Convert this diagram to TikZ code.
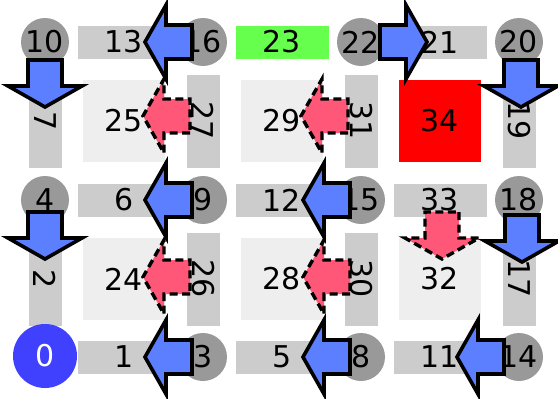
\documentclass[tikz,border=0pt]{standalone}
\usepackage{fontspec}
\setmainfont{DejaVu Sans}
\usetikzlibrary{calc}
\definecolor{vgray}{HTML}{999999}
\definecolor{egray}{HTML}{CCCCCC}
\definecolor{fgray}{HTML}{EEEEEE}
\definecolor{arrowblue}{RGB}{91,127,255}
\definecolor{arrowred}{RGB}{255,87,119}
\definecolor{rootblue}{HTML}{4040FF}
\definecolor{mgreen}{RGB}{102,255,77}
\tikzset{
  every node/.style={font=\fontsize{30}{36}\selectfont, inner sep=0pt},
  vert/.style={circle, fill=vgray, minimum size=48pt},
  hedge/.style={rectangle, fill=egray, minimum width=93pt, minimum height=33pt},
  vedge/.style={hedge, rotate=-90},
  face/.style={rectangle, fill=fgray, minimum size=82pt},
  pics/blockarrow/.style={code={
    \path[pic actions] (0,-17) -- (26,-17) -- (26,-37) -- (47,0)
      -- (26,37) -- (26,17) -- (0,17) -- cycle;}},
  bluearrow/.style={fill=arrowblue, draw=black, line width=3.6pt},
  redarrow/.style={fill=arrowred, draw=black, line width=3.4pt, dash pattern=on 8pt off 4.5pt},
}
\begin{document}
\begin{tikzpicture}[x=1pt, y=-1pt]
\useasboundingbox (0,0) rectangle (558,399);

% faces
\node[face] (f25) at (124,121) {25};
\node[face] (f29) at (282,121) {29};
\node[face, fill=red] (f34) at (440,121) {34};
\node[face] (f24) at (124,279) {24};
\node[face] (f28) at (282,279) {28};
\node[face] (f32) at (440,279) {32};

% horizontal edges
\node[hedge] (e13) at (124,42) {13};
\node[hedge, fill=mgreen] (e23) at (282,42) {23};
\node[hedge] (e21) at (440,42) {21};
\node[hedge] (e6) at (124,200) {6};
\node[hedge] (e12) at (282,200) {12};
\node[hedge] (e33) at (440,200) {33};
\node[hedge] (e1) at (124,357) {1};
\node[hedge] (e5) at (282,357) {5};
\node[hedge] (e11) at (440,357) {11};

% vertical edges
\node[vedge] (e7) at (45,121) {7};
\node[vedge] (e27) at (203,121) {27};
\node[vedge] (e31) at (361,121) {31};
\node[vedge] (e19) at (519,121) {19};
\node[vedge] (e2) at (45,279) {2};
\node[vedge] (e26) at (203,279) {26};
\node[vedge] (e30) at (361,279) {30};
\node[vedge] (e17) at (519,279) {17};

% vertices
\node[vert] (v10) at (45,42) {10};
\node[vert] (v16) at (203,42) {16};
\node[vert] (v22) at (361,42) {22};
\node[vert] (v20) at (519,42) {20};
\node[vert] (v4) at (45,200) {4};
\node[vert] (v9) at (203,200) {9};
\node[vert] (v15) at (361,200) {15};
\node[vert] (v18) at (519,200) {18};
\node[vert, fill=rootblue, text=white, minimum size=64pt] (v0) at (45,356) {0};
\node[vert] (v3) at (203,357) {3};
\node[vert] (v8) at (361,357) {8};
\node[vert] (v14) at (519,357) {14};

% vertex-to-edge arrows
\pic[bluearrow, rotate=180] at ($(v16)+(-11,0)$) {blockarrow};
\pic[bluearrow, rotate=180] at ($(v9)+(-11,0)$) {blockarrow};
\pic[bluearrow, rotate=180] at ($(v3)+(-11,0)$) {blockarrow};
\pic[bluearrow, rotate=180] at ($(v15)+(-11,0)$) {blockarrow};
\pic[bluearrow, rotate=180] at ($(v8)+(-11,0)$) {blockarrow};
\pic[bluearrow, rotate=180] at ($(v14)+(-15,0)$) {blockarrow};
\pic[bluearrow] at ($(v22)+(19,0)$) {blockarrow};
\pic[bluearrow, rotate=-90] at ($(v10)+(0,18)$) {blockarrow};
\pic[bluearrow, rotate=-90] at ($(v20)+(2,18)$) {blockarrow};
\pic[bluearrow, rotate=-90] at ($(v4)+(0,12)$) {blockarrow};
\pic[bluearrow, rotate=-90] at ($(v18)+(3,15)$) {blockarrow};

% edge-to-face arrows
\pic[redarrow, rotate=180] at ($(e27)+(-13,-5)$) {blockarrow};
\pic[redarrow, rotate=180] at ($(e31)+(-13,-5)$) {blockarrow};
\pic[redarrow, rotate=180] at ($(e26)+(-13,-2)$) {blockarrow};
\pic[redarrow, rotate=180] at ($(e30)+(-11,-2)$) {blockarrow};
\pic[redarrow, rotate=-90] at ($(e33)+(2,12)$) {blockarrow};
\end{tikzpicture}
\end{document}
